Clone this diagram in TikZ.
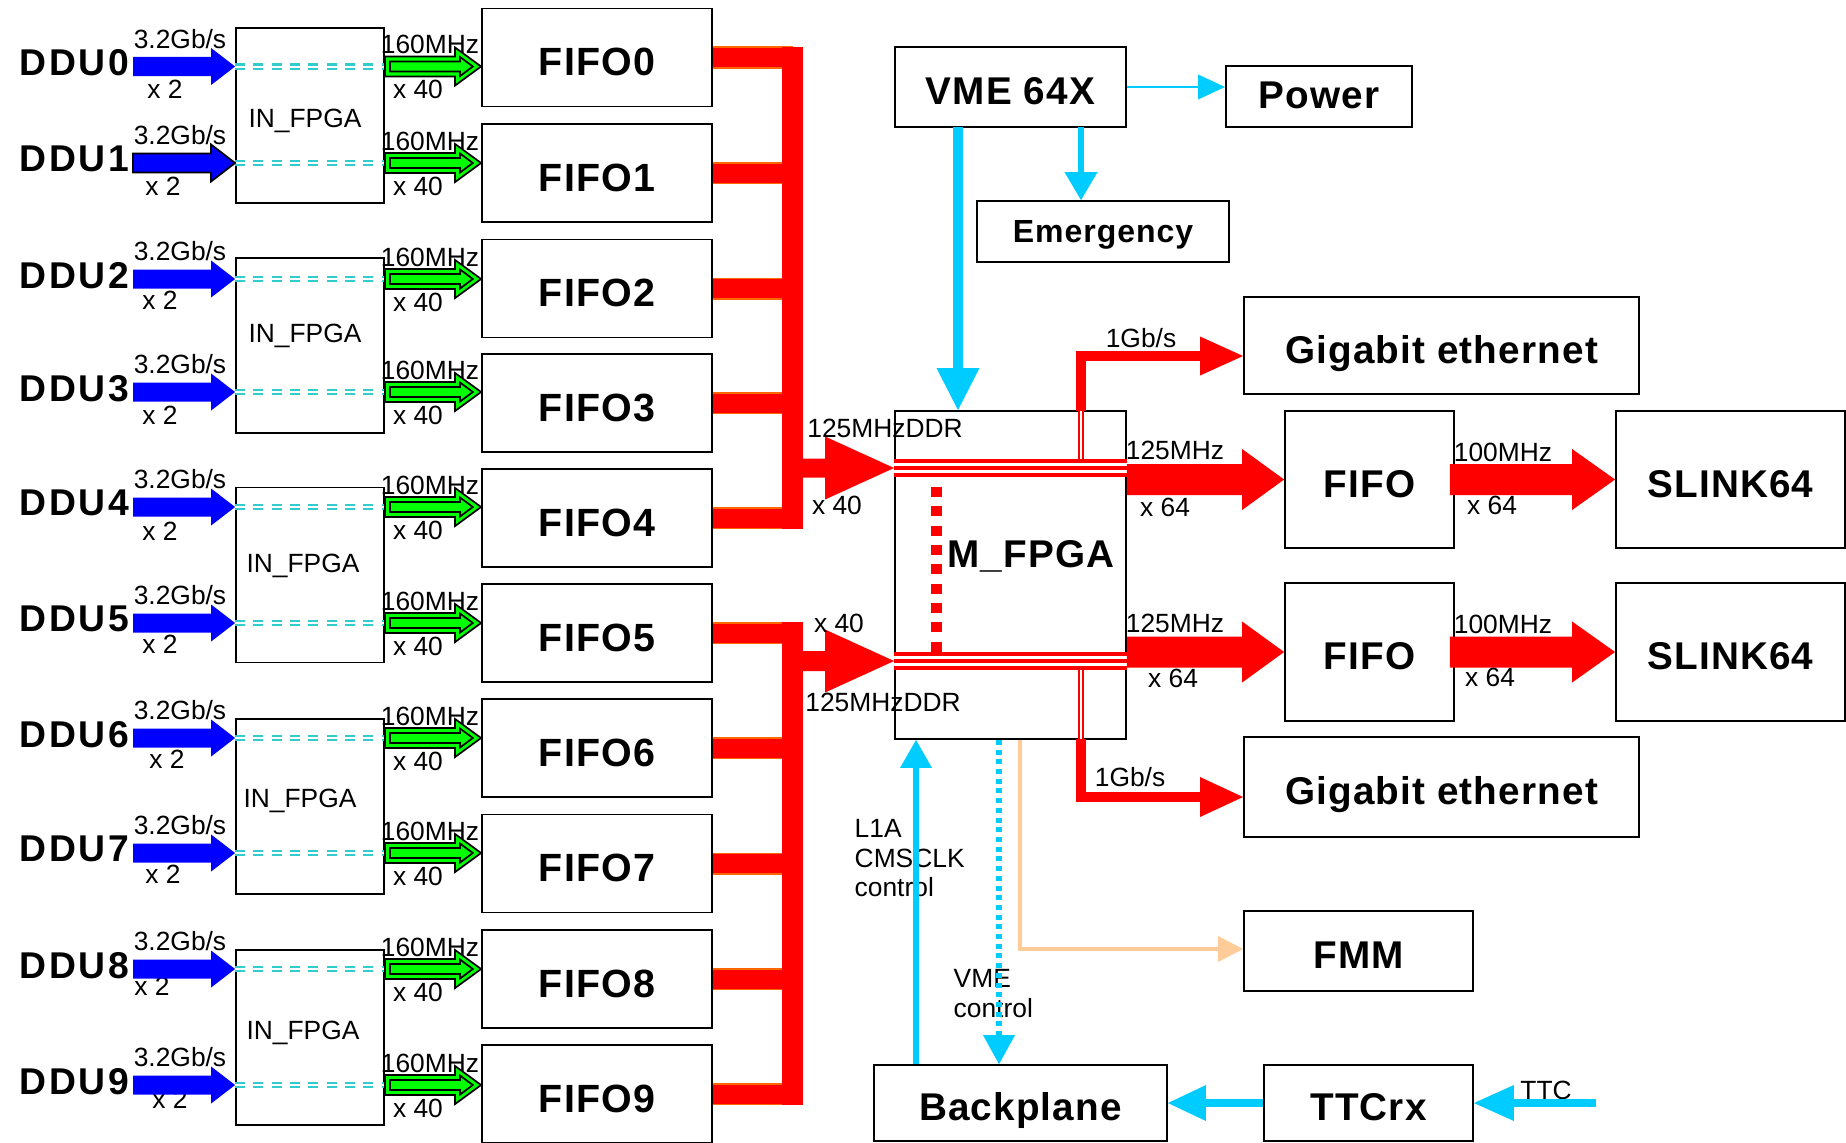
\documentclass[tikz,border=0pt]{standalone}
\usepackage{fontspec}
\setmainfont{Liberation Sans}
\newfontfamily\heavy{Liberation Sans}[LetterSpace=3]
\newfontfamily\heavywide{Liberation Sans}[LetterSpace=7]
\usetikzlibrary{arrows.meta,calc}

\definecolor{ddublue}{RGB}{0,0,255}
\definecolor{linkgreen}{RGB}{0,255,0}
\definecolor{dashcyan}{RGB}{51,204,204}
\definecolor{ctlcyan}{RGB}{0,204,255}
\definecolor{busred}{RGB}{255,0,0}
\definecolor{busorange}{RGB}{255,102,0}
\definecolor{fmmpeach}{RGB}{255,204,153}

\newcommand{\fatarrow}[6][]{%
  \path[#1] let \p1=#2, \p2=#3 in
    (\x1,\y2+#4) -- (\x2-#6,\y2+#4) -- (\x2-#6,\y2+#5) -- (\x2,\y2)
    -- (\x2-#6,\y2-#5) -- (\x2-#6,\y2-#4) -- (\x1,\y2-#4) -- cycle;}
\newcommand{\inneroutline}[2]{%
  \path[draw=black, line width=0.017cm] let \p1=#1, \p2=#2 in
    (\x1+0.05cm,\y2+0.05cm) -- (\x2-0.21cm,\y2+0.05cm) -- (\x2-0.21cm,\y2+0.095cm) -- (\x2-0.083cm,\y2)
    -- (\x2-0.21cm,\y2-0.095cm) -- (\x2-0.21cm,\y2-0.05cm) -- (\x1+0.05cm,\y2-0.05cm) -- cycle;}

\tikzset{
  every node/.style={inner sep=0pt, text depth=0pt},
  box/.style={draw, line width=0.017cm},
  big/.style={font=\heavy\bfseries\fontsize{11}{13}\selectfont, text height=10.2pt},
  small/.style={font=\fontsize{7.5}{8.5}\selectfont},
  ddu/.style={font=\heavywide\bfseries\fontsize{10.6}{12}\selectfont},
  fifo/.style={box, minimum width=2.3cm, minimum height=0.98cm, font=\heavy\bfseries\fontsize{11.2}{13}\selectfont, text height=10.4pt},
  infpga/.style={box, minimum width=1.48cm, minimum height=1.75cm},
  dashline/.style={draw=dashcyan, double=white, line width=0.022cm, double distance=0.02cm, dash pattern=on 0.1cm off 0.083cm},
  branch/.style={draw=busorange, double=busred, line width=0.015cm, double distance=0.19cm},
  bus/.style={draw=busred, line width=0.21cm},
  bandfill/.style={draw=busred, line width=0.18cm},
  bandlines/.style={draw=white, double=busred, line width=0.03cm, double distance=0.04cm},
  twinline/.style={draw=busred, double=white, line width=0.018cm, double distance=0.025cm},
  ctl/.style={draw=ctlcyan},
}

\begin{document}
\begin{tikzpicture}[x=0.01cm, y=-0.01cm]
\useasboundingbox (0, 0) rectangle (1846, 1142);

\node (in0) at (310, 115.5) [infpga] {};
\node (in1) at (310, 345.5) [infpga] {};
\node (in2) at (310, 575) [infpga] {};
\node (in3) at (310, 806.5) [infpga] {};
\node (in4) at (310, 1037.5) [infpga] {};
\node (lin0) at (305, 118) [small] {IN\_FPGA};
\node (lin1) at (305, 333) [small] {IN\_FPGA};
\node (lin2) at (303, 563) [small] {IN\_FPGA};
\node (lin3) at (300, 798) [small] {IN\_FPGA};
\node (lin4) at (303, 1030) [small] {IN\_FPGA};

\node (fifo0) at (597, 57.5) [fifo] {FIFO0};
\node (fifo1) at (597, 173) [fifo] {FIFO1};
\node (fifo2) at (597, 288.5) [fifo] {FIFO2};
\node (fifo3) at (597, 403) [fifo] {FIFO3};
\node (fifo4) at (597, 518) [fifo] {FIFO4};
\node (fifo5) at (597, 633) [fifo] {FIFO5};
\node (fifo6) at (597, 748) [fifo] {FIFO6};
\node (fifo7) at (597, 863.5) [fifo] {FIFO7};
\node (fifo8) at (597, 979) [fifo] {FIFO8};
\node (fifo9) at (597, 1094) [fifo] {FIFO9};

\coordinate (busA1) at (792.5, 46.5);
\coordinate (busA2) at (792.5, 529);
\coordinate (busB1) at (792.5, 622);
\coordinate (busB2) at (792.5, 1105);

\foreach \i in {0,...,9}
  \draw[branch] (fifo\i.east) -- (fifo\i.east -| busA1);
\draw[bus] (busA1) -- (busA2);
\draw[bus] (busB1) -- (busB2);

\foreach \i/\ry/\k/\a/\b in {0/66.5/0/165/23, 1/163/0/163/23, 2/279/1/160/21, 3/392/1/160/23, 4/507/2/160/24,
                            5/623/2/160/21, 6/738/3/167/21, 7/853/3/163/21, 8/969/4/152/17, 9/1085/4/170/14} {
  \coordinate (r\i) at (0, \ry);
  \node (ddu\i) at (130, \ry-4) [ddu, anchor=east] {DDU\i};
  \node (rate\i) at (180, \ry-28) [small] {3.2Gb/s};
  \node (pair\i) at (\a, \ry+\b) [small] {x 2};
  \node (clk\i) at (430, \ry-22) [small] {160MHz};
  \node (wide\i) at (418, \ry+23) [small] {x 40};
  \draw[dashline] (in\k.west |- r\i) -- (in\k.east |- r\i);
  \fatarrow[fill=ddublue]{([xshift=0.03cm]ddu\i.east)}{(in\k.west |- r\i)}{0.095cm}{0.185cm}{0.24cm}
  \fatarrow[fill=linkgreen, draw=black, line width=0.017cm]{(in\k.east |- r\i)}{(fifo\i.west |- r\i)}{0.10cm}{0.19cm}{0.26cm}
  \inneroutline{(in\k.east |- r\i)}{(fifo\i.west |- r\i)}
}
\fatarrow[draw=black, line width=0.017cm]{([xshift=0.03cm]ddu1.east)}{(in0.west |- r1)}{0.095cm}{0.185cm}{0.24cm}

\node (mf) at (1010.5, 575) [box, minimum width=2.31cm, minimum height=3.28cm] {};
\node (mftext) at (1031, 550) [big] {M\_FPGA};
\node (vme) at (1010.5, 87) [box, big, minimum width=2.31cm, minimum height=0.8cm] {VME 64X};
\node (power) at (1319, 96.5) [box, big, text height=7pt, minimum width=1.86cm, minimum height=0.61cm] {Power};
\node (emerg) at (1103, 231.5) [box, minimum width=2.52cm, minimum height=0.61cm, font=\heavy\bfseries\fontsize{9.1}{11}\selectfont] {Emergency};
\node (gig1) at (1441.5, 345.5) [box, big, minimum width=3.95cm, minimum height=0.97cm] {Gigabit ethernet};
\node (fifoA) at (1369.5, 479.5) [box, big, minimum width=1.69cm, minimum height=1.37cm] {FIFO};
\node (fifoB) at (1369.5, 652) [box, big, minimum width=1.69cm, minimum height=1.38cm] {FIFO};
\node (slinkA) at (1730.5, 479.5) [box, big, minimum width=2.29cm, minimum height=1.37cm] {SLINK64};
\node (slinkB) at (1730.5, 652) [box, big, minimum width=2.29cm, minimum height=1.38cm] {SLINK64};
\node (gig2) at (1441.5, 787) [box, big, minimum width=3.95cm, minimum height=1cm] {Gigabit ethernet};
\node (fmm) at (1358.5, 951) [box, big, minimum width=2.29cm, minimum height=0.8cm] {FMM};
\node (back) at (1020.5, 1103) [box, big, minimum width=2.93cm, minimum height=0.76cm] {Backplane};
\node (ttcrx) at (1368.5, 1103) [box, big, minimum width=2.09cm, minimum height=0.76cm] {TTCrx};

\coordinate (bandA) at (0, 468);
\coordinate (bandB) at (0, 661);
\draw[bandfill] (mf.west |- bandA) -- (mf.east |- bandA);
\draw[bandlines] (mf.west |- bandA) -- (mf.east |- bandA);
\draw[bandfill] (mf.west |- bandB) -- (mf.east |- bandB);
\draw[bandlines] (mf.west |- bandB) -- (mf.east |- bandB);
\coordinate (dotA) at (936.5, 487);
\coordinate (dotB) at (936.5, 652);
\draw[busred, line width=0.11cm, dash pattern=on 0.1cm off 0.093cm] (dotA) -- (dotB);
\coordinate (gtapA) at (1081, 411);
\coordinate (gtapB) at (1081, 739);
\draw[twinline] (gtapA) -- ++(0, 48);
\draw[twinline] (gtapB) -- ++(0, -69);

\fatarrow[fill=busred]{(busA1)}{(mf.west |- bandA)}{0.095cm}{0.315cm}{0.69cm}
\fatarrow[fill=busred]{(busB1)}{(mf.west |- bandB)}{0.10cm}{0.315cm}{0.69cm}
\fatarrow[fill=busred]{(mf.east)}{(fifoA.west)}{0.155cm}{0.305cm}{0.42cm}
\fatarrow[fill=busred]{(mf.east)}{(fifoB.west)}{0.155cm}{0.305cm}{0.42cm}
\fatarrow[fill=busred]{([xshift=-0.05cm]fifoA.east)}{(slinkA.west)}{0.155cm}{0.305cm}{0.43cm}
\fatarrow[fill=busred]{([xshift=-0.05cm]fifoB.east)}{(slinkB.west)}{0.155cm}{0.305cm}{0.43cm}

\draw[busred, line width=0.1cm, -{Triangle[length=0.43cm, width=0.39cm, line width=0pt]}] (gtapA) |- ([yshift=-0.105cm]gig1.west);
\draw[busred, line width=0.1cm, -{Triangle[length=0.43cm, width=0.40cm, line width=0pt]}] (gtapB) |- ([yshift=-0.10cm]gig2.west);

\node (ddrA) at (885, 428) [small] {125MHzDDR};
\node (wideA) at (837, 505) [small] {x 40};
\node (wideB) at (839, 623) [small] {x 40};
\node (ddrB) at (883, 702) [small] {125MHzDDR};
\node (clkA) at (1175, 450) [small] {125MHz};
\node (outA) at (1165, 507) [small] {x 64};
\node (clkB) at (1175, 623) [small] {125MHz};
\node (outB) at (1173, 678) [small] {x 64};
\node (slclkA) at (1503, 452) [small] {100MHz};
\node (slwideA) at (1492, 505) [small] {x 64};
\node (slclkB) at (1503, 624) [small] {100MHz};
\node (slwideB) at (1490, 677) [small] {x 64};
\node (gbA) at (1141, 338) [small] {1Gb/s};
\node (gbB) at (1130, 777) [small] {1Gb/s};
\node (l1a) at (854, 858) [small, anchor=west, align=left] {L1A\\CMSCLK\\control};
\node (vmectl) at (953, 993) [small, anchor=west, align=left] {VME\\control};
\node (ttc) at (1546, 1090) [small] {TTC};

\coordinate (vmeA) at (958, 127);
\coordinate (vmeB) at (1081, 127);
\coordinate (l1ax) at (916, 0);
\coordinate (vmecx) at (999, 0);
\coordinate (fmmx) at (1019.5, 0);
\coordinate (ttcin) at (1596, 1103);

\draw[ctl, line width=0.1cm, -{Triangle[length=0.42cm, width=0.43cm, line width=0pt]}] (vmeA) -- (vmeA |- mf.north);
\draw[ctl, line width=0.055cm, -{Triangle[length=0.28cm, width=0.33cm, line width=0pt]}] (vmeB) -- (vmeB |- emerg.north);
\draw[ctl, line width=0.02cm, -{Triangle[length=0.27cm, width=0.25cm, line width=0pt]}] (vme.east) -- (vme.east -| power.west);
\draw[ctl, line width=0.055cm, -{Triangle[length=0.28cm, width=0.32cm, line width=0pt]}] (back.north -| l1ax) -- (mf.south -| l1ax);
\draw[ctl, line width=0.055cm, dash pattern=on 0.05cm off 0.047cm, -{Triangle[length=0.29cm, width=0.32cm, line width=0pt]}] (mf.south -| vmecx) -- (back.north -| vmecx);
\draw[fmmpeach, line width=0.04cm, -{Triangle[length=0.25cm, width=0.26cm, line width=0pt]}] (mf.south -| fmmx) |- ([yshift=0.02cm]fmm.west);
\draw[ctl, line width=0.08cm, -{Triangle[length=0.38cm, width=0.36cm, line width=0pt]}] (ttcrx.west) -- (back.east);
\draw[ctl, line width=0.08cm, -{Triangle[length=0.40cm, width=0.36cm, line width=0pt]}] (ttcin) -- (ttcrx.east);
\end{tikzpicture}
\end{document}
